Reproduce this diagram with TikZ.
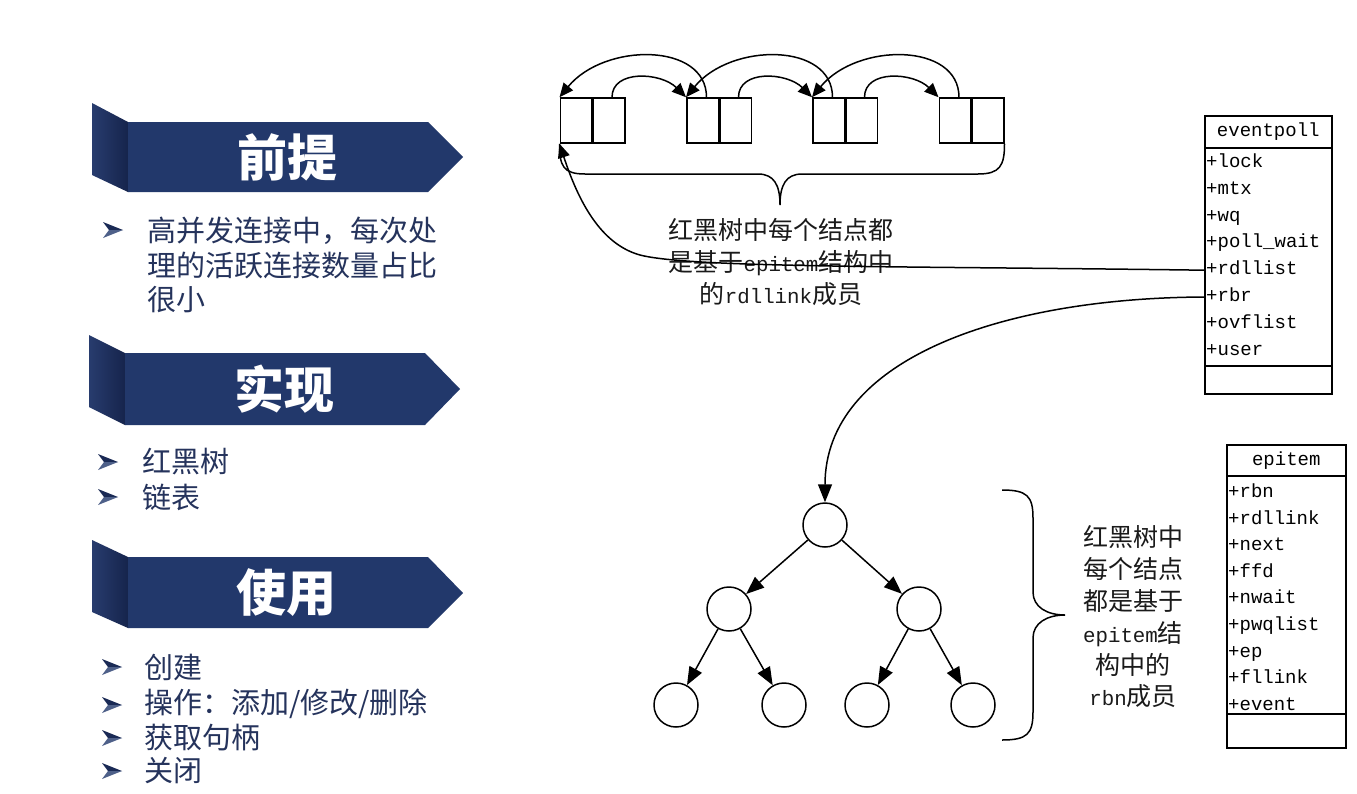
\documentclass[tikz,border=0pt]{standalone}
\usepackage{fontspec}
\usetikzlibrary{arrows.meta,calc}
\newfontfamily\cjk{Noto Sans CJK SC}
\newfontfamily\monof{Liberation Mono}
\definecolor{navy}{HTML}{22386B}
\definecolor{navydark}{HTML}{1A2A55}
\definecolor{panell}{HTML}{283C6E}
\definecolor{panelr}{HTML}{16244C}
\definecolor{listtext}{HTML}{25335C}
\definecolor{ink}{HTML}{1A1A1A}
\tikzset{
  cell/.style={draw, line width=1.5pt, minimum width=31.5pt, minimum height=45pt, inner sep=0pt},
  tnode/.style={draw, circle, line width=1.5pt, minimum size=44pt, inner sep=0pt},
  conn/.style={line width=1.5pt, draw=black},
  listtip/.style={-{Triangle[length=14pt,width=12pt]}},
  treetip/.style={-{Triangle[length=18pt,width=14pt]}},
  panel/.style={left color=panell, right color=panelr},
  umlbox/.style={draw, line width=1.5pt, anchor=north west, inner sep=0pt, font=\monof\fontsize{19}{20}\selectfont},
  field/.style={font=\monof\fontsize{19}{20}\selectfont, anchor=west, inner sep=0pt, text height=13pt, text depth=4pt},
  bandtitle/.style={font=\cjk\bfseries\fontsize{50}{50}\selectfont, text=white, inner sep=0pt},
  item/.style={font=\cjk\fontsize{29}{34.5}\selectfont, text=listtext, anchor=west, inner sep=0pt, align=left},
  annot/.style={font=\cjk\fontsize{25}{31.6}\selectfont, text=ink, inner sep=0pt, align=center},
  bul/.pic={\fill[navydark] (0,0) -- (20,8) -- (6,8) -- cycle;
            \fill[navy!80!white] (6,8) -- (20,8) -- (0,16) -- cycle;}
}
\newcommand\mm[1]{{\monof\fontsize{20.8}{20}\selectfont #1}}
\begin{document}
\begin{tikzpicture}[x=1pt,y=-1pt]
\fill[white] (0,0) rectangle (1357,793);
\useasboundingbox (0,0) rectangle (1357,793);

% ---------- banners ----------
\shade[panel] (92,103) -- (128,122) -- (128,192) -- (92,175) -- cycle;
\fill[navy] (128,122) -- (428,122) -- (463,157) -- (428,192) -- (128,192) -- cycle;
\node[bandtitle] (t1) at (287,157) {前提};

\shade[panel] (89,335) -- (125,353) -- (125,425) -- (89,407) -- cycle;
\fill[navy] (125,353) -- (425,353) -- (460,389) -- (425,425) -- (125,425) -- cycle;
\node[bandtitle] (t2) at (284,389) {实现};

\shade[panel] (92,540) -- (128,557) -- (128,628) -- (92,612) -- cycle;
\fill[navy] (128,557) -- (428,557) -- (463,593) -- (428,628) -- (128,628) -- cycle;
\node[bandtitle] (t3) at (286,593) {使用};

% ---------- bullet lists ----------
\pic at (103,222) {bul};
\node[item] (i11) at (147,265) {高并发连接中，每次处\\理的活跃连接数量占比\\很小};

\pic at (98,454) {bul};
\node[item] (i21) at (142,462) {红黑树};
\pic at (98,489) {bul};
\node[item] (i22) at (142,497) {链表};

\pic at (102,659) {bul};
\node[item] (i31) at (144,667) {创建};
\pic at (102,697) {bul};
\node[item] (i32) at (144,704) {操作：添加/修改/删除};
\pic at (102,730) {bul};
\node[item] (i33) at (144,738) {获取句柄};
\pic at (102,763) {bul};
\node[item] (i34) at (144,771) {关闭};

% ---------- linked list ----------
\node[cell] (n1a) at (576,120.5) {};
\node[cell, anchor=west] (n1b) at (n1a.east) {};
\node[cell] (n2a) at (702.5,120.5) {};
\node[cell, anchor=west] (n2b) at (n2a.east) {};
\node[cell] (n3a) at (828.5,120.5) {};
\node[cell, anchor=west] (n3b) at (n3a.east) {};
\node[cell] (n4a) at (955,120.5) {};
\node[cell, anchor=west] (n4b) at (n4a.east) {};

\draw[conn,listtip] ([xshift=3pt]n1b.north) .. controls +(0,-28) and +(-25,-25) .. (n2a.north west);
\draw[conn,listtip] ([xshift=3pt]n2b.north) .. controls +(0,-28) and +(-25,-25) .. (n3a.north west);
\draw[conn,listtip] ([xshift=3pt]n3b.north) .. controls +(0,-28) and +(-25,-25) .. (n4a.north west);
\draw[conn,listtip] ([xshift=4pt]n2a.north) .. controls +(0,-55) and +(45,-55) .. (n1a.north west);
\draw[conn,listtip] ([xshift=4pt]n3a.north) .. controls +(0,-55) and +(45,-55) .. (n2a.north west);
\draw[conn,listtip] ([xshift=4pt]n4a.north) .. controls +(0,-55) and +(45,-55) .. (n3a.north west);

\coordinate (btip) at (780,205);
\draw[conn] (n1a.south west) .. controls +(0,22) and +(-22,0) .. (585,174) -- (758,174)
  .. controls +(16,0) and +(0,-20) .. (btip) .. controls +(0,-20) and +(-16,0) .. (802,174)
  -- (978,174) .. controls +(22,0) and +(0,22) .. (n4b.south east);

\node[annot] (note1) at (781,262) {红黑树中每个结点都\\是基于\mm{epitem}结构中\\的\mm{rdllink}成员};

% ---------- eventpoll ----------
\node[umlbox, minimum width=127pt, minimum height=32pt] (ephead) at (1204,115) {eventpoll};
\node[umlbox, minimum width=127pt, minimum height=218pt] (epbody) at (1204,147) {};
\node[umlbox, minimum width=127pt, minimum height=28pt] (epfoot) at (1204,365) {};
\node[field] (ep-lock) at (1206,163) {+lock};
\node[field] (ep-mtx) at (1206,189.8) {+mtx};
\node[field] (ep-wq) at (1206,216.6) {+wq};
\node[field] (ep-pw) at (1206,243.4) {+poll\_wait};
\node[field] (ep-rdllist) at (1206,270.2) {+rdllist};
\node[field] (ep-rbr) at (1206,297) {+rbr};
\node[field] (ep-ovf) at (1206,323.8) {+ovflist};
\node[field] (ep-user) at (1206,350.6) {+user};

% ---------- epitem ----------
\node[umlbox, minimum width=119pt, minimum height=31pt] (eihead) at (1226,444) {epitem};
\node[umlbox, minimum width=119pt, minimum height=238pt] (eibody) at (1226,475) {};
\node[umlbox, minimum width=119pt, minimum height=34pt] (eifoot) at (1226,713) {};
\node[field] (ei-rbn) at (1228,493) {+rbn};
\node[field] (ei-rdl) at (1228,519.6) {+rdllink};
\node[field] (ei-next) at (1228,546.2) {+next};
\node[field] (ei-ffd) at (1228,572.8) {+ffd};
\node[field] (ei-nwait) at (1228,599.4) {+nwait};
\node[field] (ei-pwq) at (1228,626) {+pwqlist};
\node[field] (ei-ep) at (1228,652.6) {+ep};
\node[field] (ei-fll) at (1228,679.2) {+fllink};
\node[field] (ei-event) at (1228,705.8) {+event};

% ---------- rdllist connector ----------
\draw[conn,listtip] (epbody.west |- ep-rdllist) .. controls (900,266) and (690,268) .. (640,255)
  .. controls (600,244) and (578,200) .. (n1a.south west);

% ---------- tree ----------
\node[tnode] (root) at (825,525) {};
\node[tnode] (l) at (729,609) {};
\node[tnode] (r) at (919,609) {};
\node[tnode] (ll) at (676,705) {};
\node[tnode] (lr) at (784,705) {};
\node[tnode] (rl) at (867,705) {};
\node[tnode] (rr) at (973,705) {};
\draw[conn,treetip] (root) -- (l);
\draw[conn,treetip] (root) -- (r);
\draw[conn,treetip] (l) -- (ll);
\draw[conn,treetip] (l) -- (lr);
\draw[conn,treetip] (r) -- (rl);
\draw[conn,treetip] (r) -- (rr);

\draw[conn,treetip] (epbody.west |- ep-rbr) .. controls (1000,298) and (825,360) .. (root.north);

\coordinate (rtip) at (1065,615);
\draw[conn] (1002,490) .. controls +(25,0) and +(0,-22) .. (1033,518) -- (1033,592)
  .. controls +(0,15) and +(-18,0) .. (rtip) .. controls +(-18,0) and +(0,-15) .. (1033,638)
  -- (1033,712) .. controls +(0,22) and +(25,0) .. (1002,740);

\node[annot, font=\cjk\fontsize{25}{31.8}\selectfont] (note2) at (1133,617) {红黑树中\\每个结点\\都是基于\\\mm{epitem}结\\构中的\\\mm{rbn}成员};
\end{tikzpicture}
\end{document}
